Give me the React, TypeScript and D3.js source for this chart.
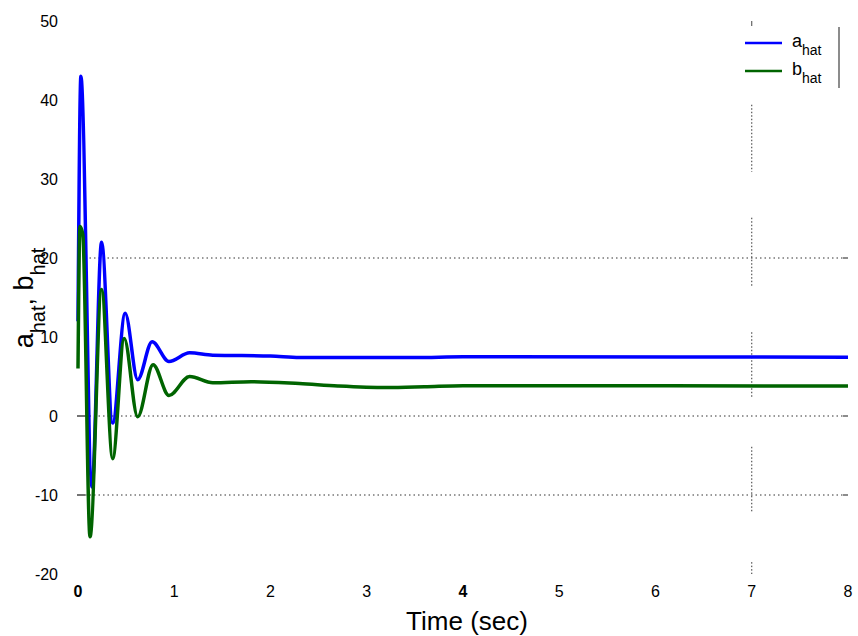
import React from 'react';
import * as d3 from 'd3';

// ---- data ----
const timeA = [0, 0.03, 0.145, 0.245, 0.36, 0.49, 0.62, 0.77, 0.945, 1.16, 1.4, 2.0, 2.3, 3.5, 4.0, 8.0];
const aHat = [12, 43, -9, 22, -0.9, 13, 4.6, 9.4, 6.9, 8.0, 7.7, 7.6, 7.4, 7.4, 7.5, 7.45];

const timeB = [0, 0.02, 0.05, 0.125, 0.245, 0.36, 0.48, 0.62, 0.78, 0.945, 1.16, 1.4, 1.8, 2.3, 2.7, 3.2, 3.6, 4.0, 8.0];
const bHat = [6, 24, 23, -15.3, 16, -5.4, 9.8, -0.1, 6.5, 2.6, 5.0, 4.2, 4.35, 4.1, 3.8, 3.6, 3.7, 3.84, 3.8];

const xTicks = [0, 1, 2, 3, 4, 5, 6, 7, 8];
const boldXTicks = [0, 4];
const yTicks = [-20, -10, 0, 10, 20, 30, 40, 50];
const gridY = [20, 0, -10];
const leftTickY = [0, -10];
const rightTickY = [20, 0, -10];
const vGridX = 7;
const vGridSegments: [number, number][] = [
  [39.4, 30.9],
  [25.1, 16.3],
  [10.6, 2.3],
  [-3.9, -12.3],
  [-18.5, -20],
];

const series = [
  { name: 'a', t: timeA, v: aHat, color: '#0000ff' },
  { name: 'b', t: timeB, v: bHat, color: '#006400' },
];

const FONT = '"Liberation Sans", Arial, Helvetica, sans-serif';

export default function App() {
  const W = 858;
  const H = 636;
  const x = d3.scaleLinear().domain([0, 8]).range([78, 848]);
  const y = d3.scaleLinear().domain([-20, 50]).range([574, 21]);

  const line = d3
    .line<[number, number]>()
    .x((d) => x(d[0]))
    .y((d) => y(d[1]))
    .curve(d3.curveMonotoneX);

  return (
    <svg
      width={W}
      height={H}
      style={{ position: 'absolute', left: 0, top: 0, background: '#fff' }}
      fontFamily={FONT}
    >
      <rect x={0} y={0} width={W} height={H} fill="#fff" />

      {/* dotted horizontal grid */}
      {gridY.map((g) => (
        <line
          key={'g' + g}
          x1={x(0) + 7}
          x2={x(8) - 5}
          y1={y(g)}
          y2={y(g)}
          stroke="#333"
          strokeWidth={1}
          strokeDasharray="1.5 3"
        />
      ))}

      {/* dotted vertical grid at x=7 */}
      {vGridSegments.map((s, i) => (
        <line
          key={'v' + i}
          x1={x(vGridX)}
          x2={x(vGridX)}
          y1={y(s[0])}
          y2={y(s[1])}
          stroke="#333"
          strokeWidth={1}
          strokeDasharray="1.5 2"
        />
      ))}
      <line x1={x(vGridX)} x2={x(vGridX)} y1={y(50)} y2={y(50) + 5} stroke="#444" strokeWidth={1} />

      {/* tick marks */}
      {leftTickY.map((t) => (
        <line key={'lt' + t} x1={x(0) - 1} x2={x(0) + 7} y1={y(t)} y2={y(t)} stroke="#444" strokeWidth={1.5} />
      ))}
      {rightTickY.map((t) => (
        <line key={'rt' + t} x1={x(8) - 5} x2={x(8)} y1={y(t)} y2={y(t)} stroke="#666" strokeWidth={1.5} />
      ))}

      {/* series */}
      {series.map((s) => (
        <path
          key={s.name}
          d={line(s.t.map((t, i) => [t, s.v[i]] as [number, number])) || ''}
          fill="none"
          stroke={s.color}
          strokeWidth={3.5}
          strokeLinejoin="round"
        />
      ))}

      {/* y tick labels */}
      {yTicks.map((t) => (
        <text key={'yl' + t} x={58} y={y(t)} dy="0.36em" textAnchor="end" fontSize={16} fill="#000">
          {t}
        </text>
      ))}

      {/* x tick labels */}
      {xTicks.map((t) => (
        <text
          key={'xl' + t}
          x={x(t)}
          y={597}
          textAnchor="middle"
          fontSize={16}
          fontWeight={boldXTicks.includes(t) ? 'bold' : 'normal'}
          fill="#000"
        >
          {t}
        </text>
      ))}

      {/* axis titles */}
      <text x={467} y={630} textAnchor="middle" fontSize={26} fill="#000">
        Time (sec)
      </text>
      <text transform="translate(33,298) rotate(-90)" textAnchor="middle" fontSize={27} fill="#000">
        <tspan>a</tspan>
        <tspan dy={12} fontSize={20}>hat</tspan>
        <tspan dy={-12}>, b</tspan>
        <tspan dy={12} fontSize={20}>hat</tspan>
      </text>

      {/* legend */}
      <line x1={745} x2={782} y1={43} y2={43} stroke="#0000ff" strokeWidth={2.5} />
      <line x1={745} x2={782} y1={71} y2={71} stroke="#006400" strokeWidth={2.5} />
      <text x={792} y={47} fontSize={18} fill="#000">
        a<tspan dy={8} fontSize={14}>hat</tspan>
      </text>
      <text x={792} y={75} fontSize={18} fill="#000">
        b<tspan dy={8} fontSize={14}>hat</tspan>
      </text>
      <line x1={839} x2={839} y1={27} y2={88} stroke="#666" strokeWidth={1.5} />
    </svg>
  );
}
